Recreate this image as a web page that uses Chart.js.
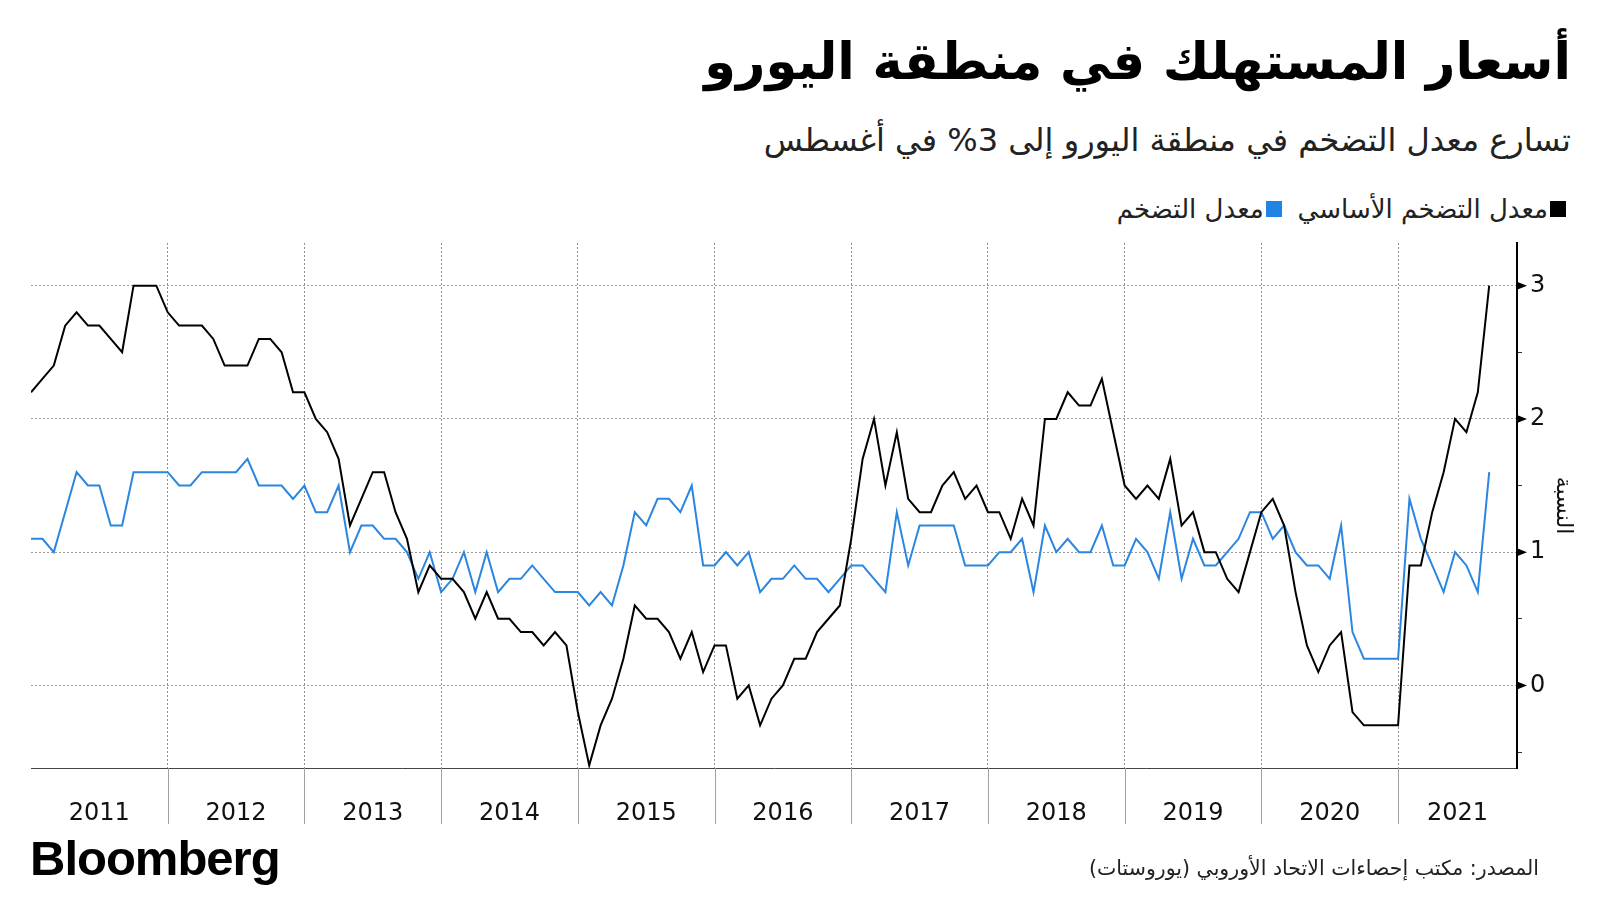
<!DOCTYPE html>
<html lang="ar">
<head>
<meta charset="utf-8">
<script src="https://cdn.jsdelivr.net/npm/chart.js@4.4.0/dist/chart.umd.min.js"></script>
<style>
  html, body { margin: 0; padding: 0; background: #fff; }
  body { width: 1600px; height: 900px; position: relative; overflow: hidden; font-family: "DejaVu Sans", sans-serif; }
  #chart { position: absolute; left: 0; top: 0; }
  .txt { position: absolute; direction: rtl; white-space: nowrap; color: #000; }
  #title { right: 29px; top: 32px; font-size: 51px; font-weight: bold; }
  #subtitle { right: 29px; top: 121px; font-size: 32px; color: #222; }
  #legend { right: 34px; top: 194px; font-size: 26px; display: flex; align-items: center; color: #222; }
  .sw { width: 16px; height: 16px; display: inline-block; margin-left: 2px; }
  #source { right: 61px; top: 856px; font-size: 20.5px; color: #222; }
  #logo { position: absolute; left: 30px; top: 830px; font-family: "Liberation Sans", Arial, sans-serif; font-weight: bold; font-size: 49px; letter-spacing: -1px; color: #000; }
</style>
</head>
<body>
<div id="title" class="txt">أسعار المستهلك في منطقة اليورو</div>
<div id="subtitle" class="txt">تسارع معدل التضخم في منطقة اليورو إلى 3% في أغسطس</div>
<div id="legend" class="txt">
  <span class="sw" style="background:#000"></span><span>معدل التضخم الأساسي</span>
  <span style="display:inline-block;width:16px"></span>
  <span class="sw" style="background:#1f84e3"></span><span>معدل التضخم</span>
</div>
<canvas id="chart" width="1600" height="900"></canvas>
<div id="source" class="txt">المصدر: مكتب إحصاءات الاتحاد الأوروبي (يوروستات)</div>
<div id="logo">Bloomberg</div>

<script>
// أول شهر في البيانات: ديسمبر 2010 (النقاط على نهاية كل شهر)
const firstYear = 2010;
const firstMonth = 12;

// أسماء السلاسل كما في وسيلة الإيضاح
const seriesNames = ['معدل التضخم الأساسي', 'معدل التضخم'];

// الخط الأسود، شهرياً من ديسمبر 2010 إلى أغسطس 2021
const blackValues = [
  2.2,
  2.3, 2.4, 2.7, 2.8, 2.7, 2.7, 2.6, 2.5, 3.0, 3.0, 3.0, 2.8,
  2.7, 2.7, 2.7, 2.6, 2.4, 2.4, 2.4, 2.6, 2.6, 2.5, 2.2, 2.2,
  2.0, 1.9, 1.7, 1.2, 1.4, 1.6, 1.6, 1.3, 1.1, 0.7, 0.9, 0.8,
  0.8, 0.7, 0.5, 0.7, 0.5, 0.5, 0.4, 0.4, 0.3, 0.4, 0.3, -0.2,
  -0.6, -0.3, -0.1, 0.2, 0.6, 0.5, 0.5, 0.4, 0.2, 0.4, 0.1, 0.3,
  0.3, -0.1, 0.0, -0.3, -0.1, 0.0, 0.2, 0.2, 0.4, 0.5, 0.6, 1.1,
  1.7, 2.0, 1.5, 1.9, 1.4, 1.3, 1.3, 1.5, 1.6, 1.4, 1.5, 1.3,
  1.3, 1.1, 1.4, 1.2, 2.0, 2.0, 2.2, 2.1, 2.1, 2.3, 1.9, 1.5,
  1.4, 1.5, 1.4, 1.7, 1.2, 1.3, 1.0, 1.0, 0.8, 0.7, 1.0, 1.3,
  1.4, 1.2, 0.7, 0.3, 0.1, 0.3, 0.4, -0.2, -0.3, -0.3, -0.3, -0.3,
  0.9, 0.9, 1.3, 1.6, 2.0, 1.9, 2.2, 3.0
];

// الخط الأزرق، نفس الأشهر
const blueValues = [
  1.1,
  1.1, 1.0, 1.3, 1.6, 1.5, 1.5, 1.2, 1.2, 1.6, 1.6, 1.6, 1.6,
  1.5, 1.5, 1.6, 1.6, 1.6, 1.6, 1.7, 1.5, 1.5, 1.5, 1.4, 1.5,
  1.3, 1.3, 1.5, 1.0, 1.2, 1.2, 1.1, 1.1, 1.0, 0.8, 1.0, 0.7,
  0.8, 1.0, 0.7, 1.0, 0.7, 0.8, 0.8, 0.9, 0.8, 0.7, 0.7, 0.7,
  0.6, 0.7, 0.6, 0.9, 1.3, 1.2, 1.4, 1.4, 1.3, 1.5, 0.9, 0.9,
  1.0, 0.9, 1.0, 0.7, 0.8, 0.8, 0.9, 0.8, 0.8, 0.7, 0.8, 0.9,
  0.9, 0.8, 0.7, 1.3, 0.9, 1.2, 1.2, 1.2, 1.2, 0.9, 0.9, 0.9,
  1.0, 1.0, 1.1, 0.7, 1.2, 1.0, 1.1, 1.0, 1.0, 1.2, 0.9, 0.9,
  1.1, 1.0, 0.8, 1.3, 0.8, 1.1, 0.9, 0.9, 1.0, 1.1, 1.3, 1.3,
  1.1, 1.2, 1.0, 0.9, 0.9, 0.8, 1.2, 0.4, 0.2, 0.2, 0.2, 0.2,
  1.4, 1.1, 0.9, 0.7, 1.0, 0.9, 0.7, 1.6
];

// السنوات على المحور الأفقي
const years = [2011, 2012, 2013, 2014, 2015, 2016, 2017, 2018, 2019, 2020, 2021];

// تدريج المحور العمودي
const yMajorTicks = [0, 1, 2, 3];
const yMinorTicks = [-0.5, 0.5, 1.5, 2.5];

// حدود المحورين
const xMin = 2011;
const xMax = 2021.87;
const yMin = -0.62;
const yMax = 3.32;

// نحوّل رقم الشهر إلى موقع على المحور (نهاية الشهر)
const toPoints = values => values.map((v, i) => ({ x: firstYear + (firstMonth + i) / 12, y: v }));

// منتصف كل سنة داخل حدود المحور لكتابة السنة
const yearMid = yr => (Math.max(yr, xMin) + Math.min(yr + 1, xMax)) / 2;

// نرسم المثلثات عند الأرقام والخطوط الفاصلة بين السنوات تحت المحور
const axisMarks = {
  id: 'axisMarks',
  afterDraw(chart) {
    const { ctx, chartArea, scales: { x, y } } = chart;
    ctx.save();
    ctx.strokeStyle = '#a0a0a0';
    ctx.lineWidth = 1;
    years.slice(1).forEach(yr => {
      const px = Math.round(x.getPixelForValue(yr)) + 0.5;
      ctx.beginPath();
      ctx.moveTo(px, chartArea.bottom);
      ctx.lineTo(px, chartArea.bottom + 56);
      ctx.stroke();
    });
    ctx.fillStyle = '#000';
    yMajorTicks.forEach(v => {
      const py = y.getPixelForValue(v);
      ctx.beginPath();
      ctx.moveTo(chartArea.right, py - 4);
      ctx.lineTo(chartArea.right + 10, py);
      ctx.lineTo(chartArea.right, py + 4);
      ctx.closePath();
      ctx.fill();
    });
    ctx.restore();
  }
};

new Chart(document.getElementById('chart'), {
  type: 'line',
  data: {
    datasets: [
      {
        label: seriesNames[0],
        data: toPoints(blackValues),
        borderColor: '#000',
        borderWidth: 2,
        pointRadius: 0,
        tension: 0
      },
      {
        label: seriesNames[1],
        data: toPoints(blueValues),
        borderColor: '#2a86e0',
        borderWidth: 2,
        pointRadius: 0,
        tension: 0
      }
    ]
  },
  options: {
    responsive: false,
    animation: false,
    layout: { padding: { left: 31, top: 243, right: 0, bottom: 0 } },
    plugins: {
      legend: { display: false },
      tooltip: { enabled: false }
    },
    scales: {
      x: {
        type: 'linear',
        position: 'bottom',
        min: xMin,
        max: xMax,
        afterBuildTicks: scale => {
          const t = [];
          years.forEach((yr, i) => {
            if (i > 0) t.push({ value: yr });
            t.push({ value: yearMid(yr) });
          });
          scale.ticks = t;
        },
        afterFit: scale => { scale.height = 132; },
        ticks: {
          autoSkip: false,
          maxRotation: 0,
          padding: 31,
          color: '#111',
          font: { family: 'DejaVu Sans', size: 24 },
          callback: v => Number.isInteger(v) ? '' : String(Math.floor(v))
        },
        grid: {
          drawTicks: false,
          lineWidth: 1,
          color: c => (c.tick && Number.isInteger(c.tick.value)) ? '#8d8d8d' : 'rgba(0,0,0,0)'
        },
        border: { display: true, color: '#444', width: 1, dash: [2, 2] }
      },
      y: {
        position: 'right',
        min: yMin,
        max: yMax,
        afterBuildTicks: scale => {
          scale.ticks = yMajorTicks.concat(yMinorTicks).sort((a, b) => a - b).map(v => ({ value: v }));
        },
        afterFit: scale => { scale.width = 83; },
        ticks: {
          padding: 8,
          color: '#111',
          font: { family: 'DejaVu Sans', size: 24 },
          callback: v => Number.isInteger(v) ? String(v) : ''
        },
        grid: {
          tickLength: 5,
          tickWidth: 1,
          color: c => (c.tick && Number.isInteger(c.tick.value)) ? '#9a9a9a' : 'rgba(0,0,0,0)',
          tickColor: c => (c.tick && Number.isInteger(c.tick.value)) ? 'rgba(0,0,0,0)' : '#333'
        },
        border: { display: true, color: '#000', width: 2, dash: [2, 2] },
        title: {
          display: true,
          text: 'النسبة',
          color: '#111',
          font: { family: 'DejaVu Sans', size: 22 },
          padding: { top: 24, bottom: 0 }
        }
      }
    }
  },
  plugins: [axisMarks]
});
</script>
</body>
</html>
